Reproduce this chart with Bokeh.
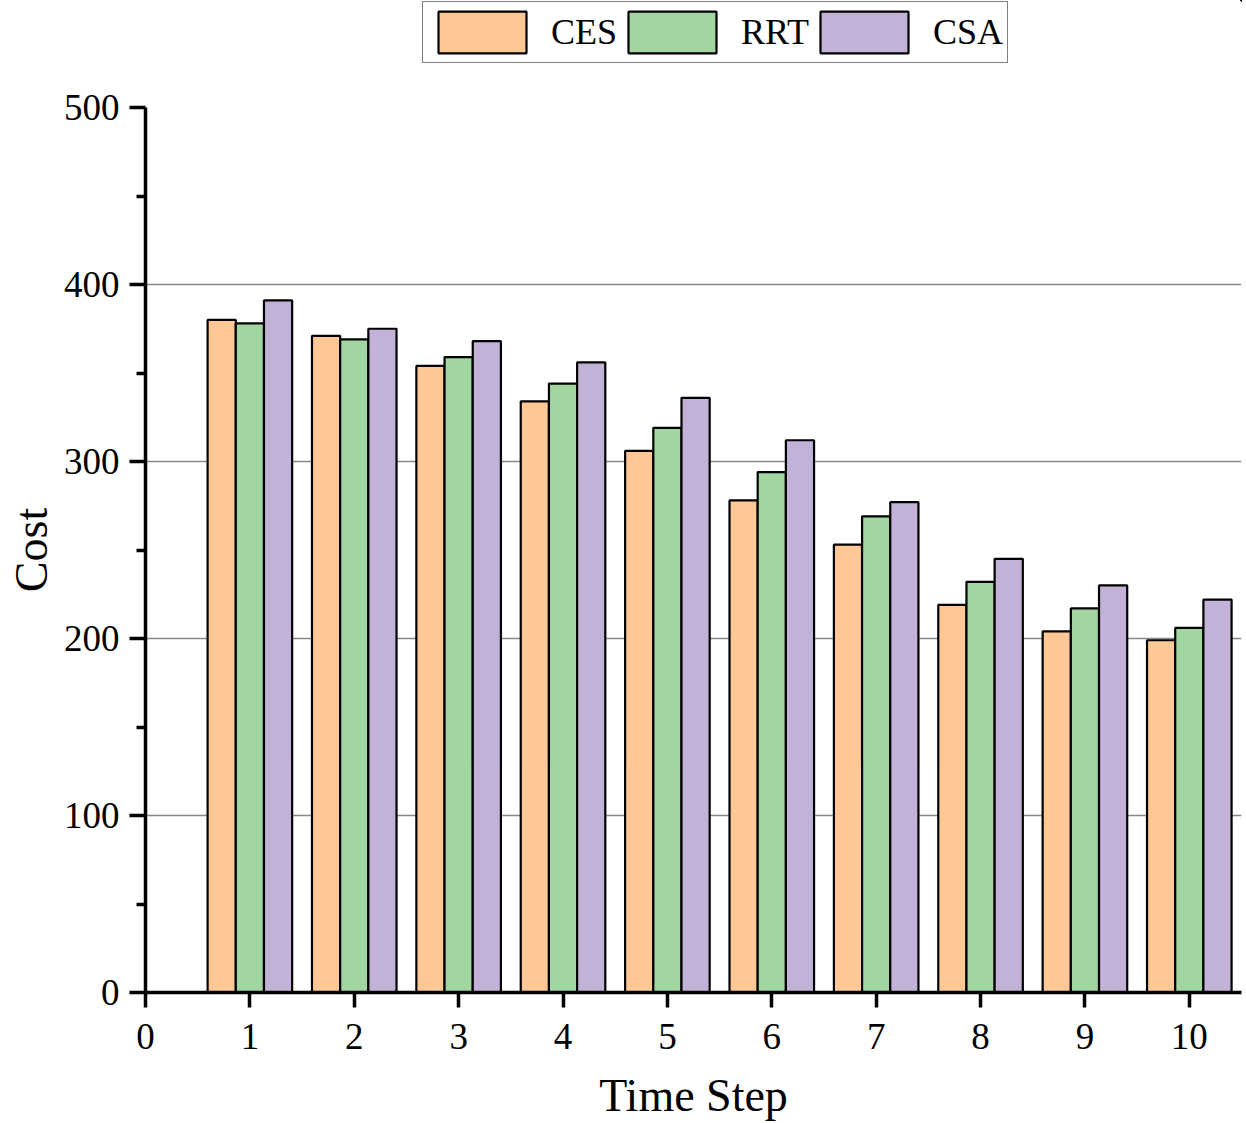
from bokeh.plotting import figure
from bokeh.layouts import column
from bokeh.models import Range1d, Legend, LegendItem, FixedTicker, ColumnDataSource
from bokeh.embed import file_html
from bokeh.resources import INLINE

# Cost per time step for each method
steps = [1, 2, 3, 4, 5, 6, 7, 8, 9, 10]
ces = [380, 371, 354, 334, 306, 278, 253, 219, 204, 199]
rrt = [378, 369, 359, 344, 319, 294, 269, 232, 217, 206]
csa = [391, 375, 368, 356, 336, 312, 277, 245, 230, 222]
series_names = ["CES", "RRT", "CSA"]
colors = ["#FDC896", "#A1D6A0", "#C2B2D7"]

FONT = "Liberation Serif"
bar_w = 0.27

# main bar chart
p = figure(width=1246, height=1036, output_backend="svg", toolbar_location=None,
           x_range=Range1d(0, 10.5), y_range=Range1d(0, 500),
           min_border_left=145, min_border_right=5, min_border_top=20,
           min_border_bottom=131)
p.outline_line_color = None
p.background_fill_color = "white"
p.border_fill_color = "white"

sources = []
for i, (name, vals, col) in enumerate(zip(series_names, [ces, rrt, csa], colors)):
    src = ColumnDataSource(dict(x=[s + (i - 1) * bar_w for s in steps], top=vals))
    sources.append(src)
    p.vbar(x="x", top="top", width=bar_w, bottom=0, source=src,
           fill_color=col, line_color="black", line_width=2.2)

# grid
p.xgrid.visible = False
p.ygrid.grid_line_color = "#888888"
p.ygrid.grid_line_width = 1.3
p.ygrid.ticker = FixedTicker(ticks=[100, 200, 300, 400, 500])

# axes
p.xaxis.ticker = FixedTicker(ticks=list(range(0, 11)))
p.yaxis.ticker = FixedTicker(ticks=[0, 100, 200, 300, 400, 500],
                             minor_ticks=[50, 150, 250, 350, 450])
for ax in (p.xaxis[0], p.yaxis[0]):
    ax.axis_line_width = 3.5
    ax.axis_line_color = "black"
    ax.major_tick_line_width = 3.5
    ax.minor_tick_line_width = 3.5
    ax.major_tick_in = 0
    ax.minor_tick_in = 0
    ax.major_label_text_font = FONT
    ax.major_label_text_font_size = "37px"
    ax.major_label_text_color = "black"
    ax.axis_label_text_font = FONT
    ax.axis_label_text_font_size = "46px"
    ax.axis_label_text_font_style = "normal"
    ax.axis_label_text_color = "black"

p.xaxis.major_tick_out = 15
p.xaxis.minor_tick_line_color = None
p.xaxis.major_label_standoff = 16
p.xaxis.axis_label = "Time Step"
p.xaxis.axis_label_standoff = 18

p.yaxis.major_tick_out = 16
p.yaxis.minor_tick_out = 9
p.yaxis.major_label_standoff = 10
p.yaxis.axis_label = "Cost"
p.yaxis.axis_label_standoff = 4

# legend strip above the chart (same series, ranges kept off the bars)
leg = figure(width=1246, height=87, output_backend="svg", toolbar_location=None,
             x_axis_type=None, y_axis_type=None,
             x_range=Range1d(-2, -1), y_range=Range1d(-2, -1),
             min_border_left=0, min_border_right=0, min_border_top=0,
             min_border_bottom=0)
leg.outline_line_color = None
leg.grid.visible = False
leg_items = []
for name, col, src in zip(series_names, colors, sources):
    r = leg.vbar(x="x", top="top", width=bar_w, bottom=0, source=src,
                 fill_color=col, line_color="black", line_width=2.2)
    leg_items.append(LegendItem(label=name, renderers=[r]))

legend = Legend(items=leg_items, orientation="horizontal", location=(277, 24),
                label_text_font=FONT, label_text_font_size="36px",
                label_text_color="black",
                glyph_width=110, glyph_height=52, label_standoff=14, spacing=0,
                padding=4, margin=0, border_line_color="black", border_line_width=1.5,
                background_fill_alpha=1.0)
leg.add_layout(legend, "center")

layout = column(leg, p, spacing=0)
open("out.html", "w").write(file_html(layout, INLINE))
